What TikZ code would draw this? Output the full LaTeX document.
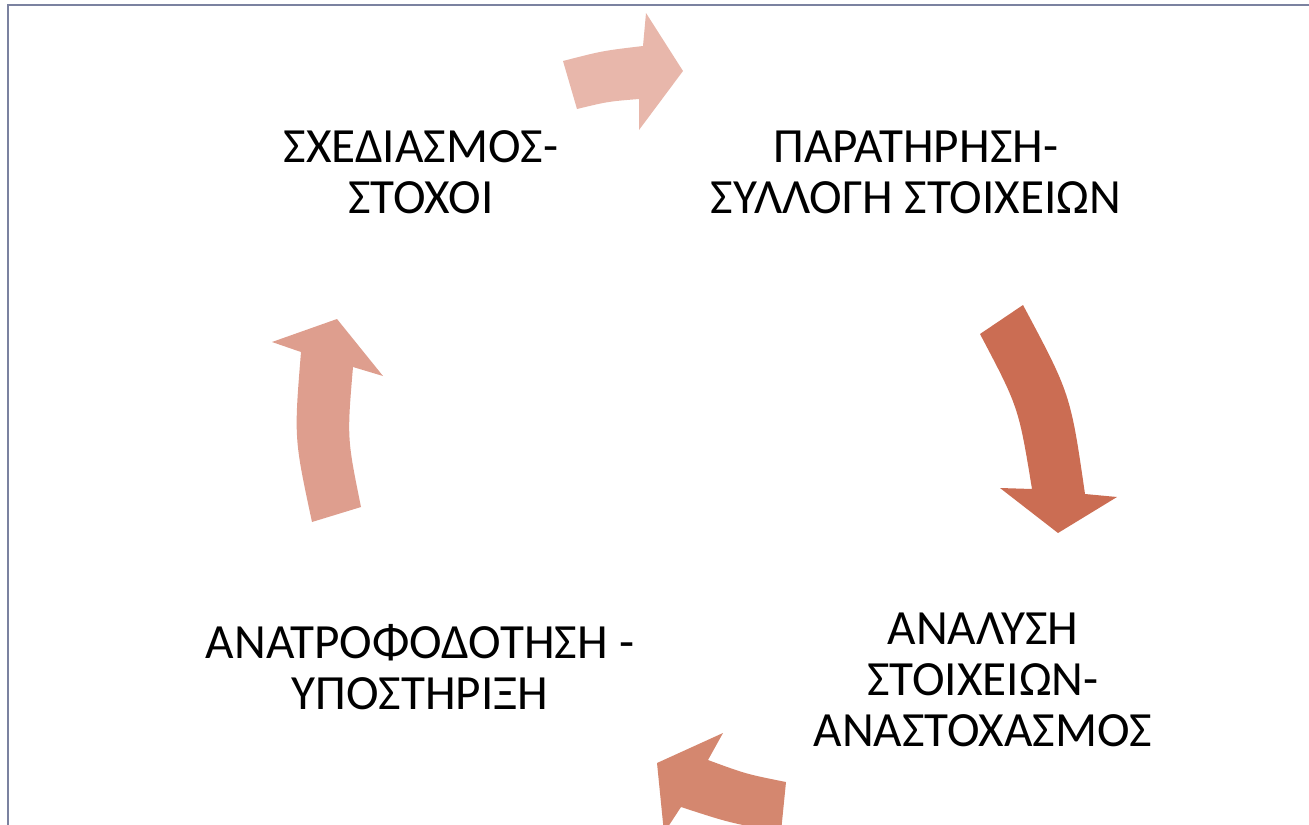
\documentclass[tikz,border=0pt]{standalone}
\usepackage{fontspec}
\setmainfont{Carlito}
\usepackage{tikz}
\usetikzlibrary{positioning}
\definecolor{framegray}{HTML}{7B82A0}
\definecolor{arrowtop}{HTML}{E8B7AB}
\definecolor{arrowright}{HTML}{CB6D53}
\definecolor{arrowbottom}{HTML}{D4876F}
\definecolor{arrowleft}{HTML}{DE9E8E}

\begin{document}
\begin{tikzpicture}[
x=0.02cm, y=-0.02cm,
font=\fontsize{28}{29}\selectfont,
stage/.style={align=center, text=black, inner sep=0pt},
blockarrow/.style={draw=none}
]
    % Page and frame
    \useasboundingbox (0,0) rectangle (1309,825);
    \clip (0,0) rectangle (1309,825);
    \draw[framegray, line width=1.15pt] (1309,5) -- (8,5) -- (8,825);

    % Cycle arrows
    \fill[blockarrow, fill=arrowtop]
    (563,61) .. controls (602.5,50.8) .. (643,46) -- (646,13) -- (683,71)
    -- (639,130) -- (639,99) .. controls (608,101.5) .. (577,109) -- cycle;

    \fill[blockarrow, fill=arrowright]
    (1023,305) .. controls (1070.5,394) .. (1085,494) -- (1117,497) -- (1058,533)
    -- (1000,488) -- (1032,489) .. controls (1018.6,407.2) .. (980,334) -- cycle;

    \fill[blockarrow, fill=arrowbottom]
    (781,832) .. controls (730,823) .. (681,807) -- (664,833) -- (657,763)
    -- (723,733) -- (708,760) .. controls (746,774) .. (786,782) -- cycle;

    \fill[blockarrow, fill=arrowleft]
    (312,522) -- (361,507) .. controls (347,438) .. (353,367) -- (383,376)
    -- (337,319) -- (272,342) -- (301,352) .. controls (294,438) .. (312,522) -- cycle;

    % Stages
    \node[stage] (plan) at (421,172) {ΣΧΕΔΙΑΣΜΟΣ-\\ΣΤΟΧΟΙ};
    \node[stage] (observe) at (916,172) {ΠΑΡΑΤΗΡΗΣΗ-\\ΣΥΛΛΟΓΗ ΣΤΟΙΧΕΙΩΝ};
    \node[stage] (analyse) at (983,680) {ΑΝΑΛΥΣΗ\\ΣΤΟΙΧΕΙΩΝ-\\ΑΝΑΣΤΟΧΑΣΜΟΣ};
    \node[stage] (feedback) at (420,667) {ΑΝΑΤΡΟΦΟΔΟΤΗΣΗ -\\ΥΠΟΣΤΗΡΙΞΗ};

\end{tikzpicture}
\end{document}
